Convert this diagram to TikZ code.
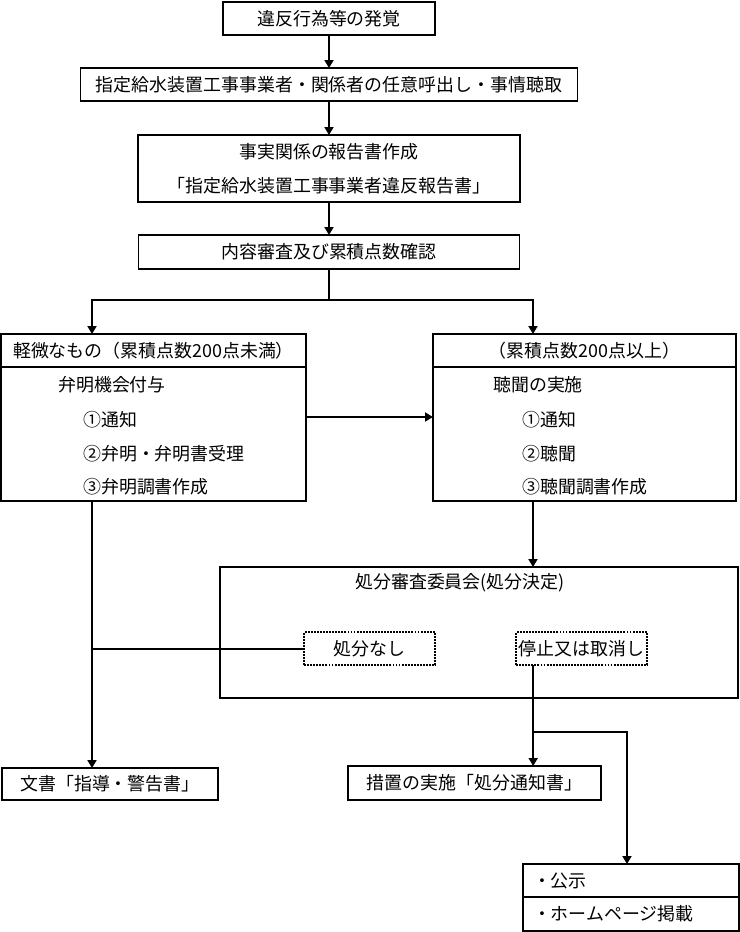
\documentclass[tikz,border=0pt]{standalone}
\usepackage{fontspec}
\setmainfont{Noto Sans CJK JP}
\usetikzlibrary{arrows.meta, positioning}

\begin{document}
\begin{tikzpicture}[
    node distance=1.0cm,
    box/.style={rectangle, draw, line width=1.6pt, outer sep=0pt, inner sep=0pt, align=center, font=\fontsize{15.3pt}{18pt}\selectfont},
    dotbox/.style={box, densely dotted, line width=1.3pt, minimum width=3.93cm, minimum height=0.99cm},
    listbox/.style={box, minimum width=6.48cm, text width=5.88cm, inner xsep=0.3cm, align=left},
    txt/.style={inner sep=0pt, font=\fontsize{15.3pt}{18pt}\selectfont},
    arr/.style={-{Triangle[width=0.27cm, length=0.24cm]}, line width=1.6pt},
    link/.style={line width=1.6pt},
]
    \useasboundingbox (0,0) rectangle (22.2,-27.96);

    % Main column
    \node[box, minimum width=6.36cm, minimum height=0.99cm] (discovery) at (9.87,-0.555) {違反行為等の発覚};
    \node[box, below=0.99cm of discovery, minimum width=14.91cm, minimum height=0.99cm] (hearing) {指定給水装置工事事業者・関係者の任意呼出し・事情聴取};
    \node[box, below=1.02cm of hearing, minimum width=11.46cm, minimum height=2.01cm] (report) {事実関係の報告書作成\\[11pt]「指定給水装置工事事業者違反報告書」};
    \node[box, below=0.99cm of report, minimum width=11.43cm, minimum height=1.02cm] (review) {内容審査及び累積点数確認};

    % Left branch: under 200 points
    \node[box, below=1.95cm of review, xshift=-5.265cm, minimum width=9.15cm, minimum height=0.99cm] (minorhead) {軽微なもの（累積点数200点未満）};
    \node[box, below=0cm of minorhead, minimum width=9.15cm, minimum height=4.02cm] (minorbody) {};
    \node[txt, anchor=west] (minor0) at ([xshift=1.71cm, yshift=-0.54cm]minorbody.north west) {弁明機会付与};
    \node[txt, anchor=west] (minor1) at ([xshift=2.46cm, yshift=-1.59cm]minorbody.north west) {①通知};
    \node[txt, anchor=west] (minor2) at ([xshift=2.46cm, yshift=-2.59cm]minorbody.north west) {②弁明・弁明書受理};
    \node[txt, anchor=west] (minor3) at ([xshift=2.46cm, yshift=-3.6cm]minorbody.north west) {③弁明調書作成};

    % Right branch: 200 points or more
    \node[box, below=1.95cm of review, xshift=7.665cm, minimum width=9.09cm, minimum height=0.99cm] (majorhead) {（累積点数200点以上）};
    \node[box, below=0cm of majorhead, minimum width=9.09cm, minimum height=4.02cm] (majorbody) {};
    \node[txt, anchor=west] (major0) at ([xshift=1.8cm, yshift=-0.54cm]majorbody.north west) {聴聞の実施};
    \node[txt, anchor=west] (major1) at ([xshift=2.67cm, yshift=-1.59cm]majorbody.north west) {①通知};
    \node[txt, anchor=west] (major2) at ([xshift=2.67cm, yshift=-2.59cm]majorbody.north west) {②聴聞};
    \node[txt, anchor=west] (major3) at ([xshift=2.67cm, yshift=-3.6cm]majorbody.north west) {③聴聞調書作成};

    % Committee
    \node[box, anchor=north east, minimum width=15.54cm, minimum height=3.93cm] (council) at ([xshift=0.06cm, yshift=-1.98cm]majorbody.south east) {};
    \node[txt] (counciltitle) at ([xshift=-0.57cm, yshift=-0.48cm]council.north) {処分審査委員会(処分決定)};
    \node[dotbox] (nodecision) at ([xshift=4.49cm, yshift=-2.45cm]council.north west) {処分なし};
    \node[dotbox] (revoke) at ([xshift=10.85cm, yshift=-2.45cm]council.north west) {停止又は取消し};

    % Outcomes
    \node[box, anchor=north west, minimum width=6.48cm, minimum height=0.96cm] (warning) at ([xshift=0.03cm, yshift=-8.01cm]minorbody.south west) {文書「指導・警告書」};
    \node[box, anchor=north west, minimum width=7.59cm, minimum height=1.02cm] (measure) at ([xshift=3.84cm, yshift=-2.04cm]council.south west) {措置の実施「処分通知書」};
    \node[listbox, anchor=north west, minimum height=1.0cm] (notice) at ([xshift=5.25cm, yshift=-1.92cm]measure.south west) {・公示};
    \node[listbox, below=0cm of notice, minimum height=1.01cm] (homepage) {・ホームページ掲載};

    % --- Arrows ---
    \draw[arr] (discovery.south) -- (hearing.north);
    \draw[arr] (hearing.south) -- (report.north);
    \draw[arr] (report.south) -- (review.north);

    \draw[arr] (review.south) -- ++(0,-0.93) -| ([xshift=2.73cm]minorhead.north west);
    \draw[arr] (review.south) -- ++(0,-0.93) -| ([xshift=3cm]majorhead.north west);

    \draw[arr] ([yshift=-1.5cm]minorbody.north east) -- ([yshift=-1.5cm]majorbody.north west);

    \coordinate (majordrop) at ([xshift=3cm]majorbody.south west);
    \draw[arr] (majordrop) -- (majordrop |- council.north);

    % No disposition joins the warning line
    \coordinate (minordrop) at ([xshift=2.73cm]minorbody.south west);
    \draw[arr] (minordrop) -- (minordrop |- warning.north);
    \draw[link] (nodecision.west) -- (nodecision.west -| minordrop);

    % Suspension or revocation
    \coordinate (revokedrop) at ([xshift=0.51cm]revoke.south west);
    \draw[arr] (revokedrop) -- (revokedrop |- measure.north);
    \path (revokedrop |- council.south) ++(0,-1.02) coordinate (branch);
    \draw[arr] (branch) -| ([xshift=-0.12cm]notice.north);

\end{tikzpicture}
\end{document}
